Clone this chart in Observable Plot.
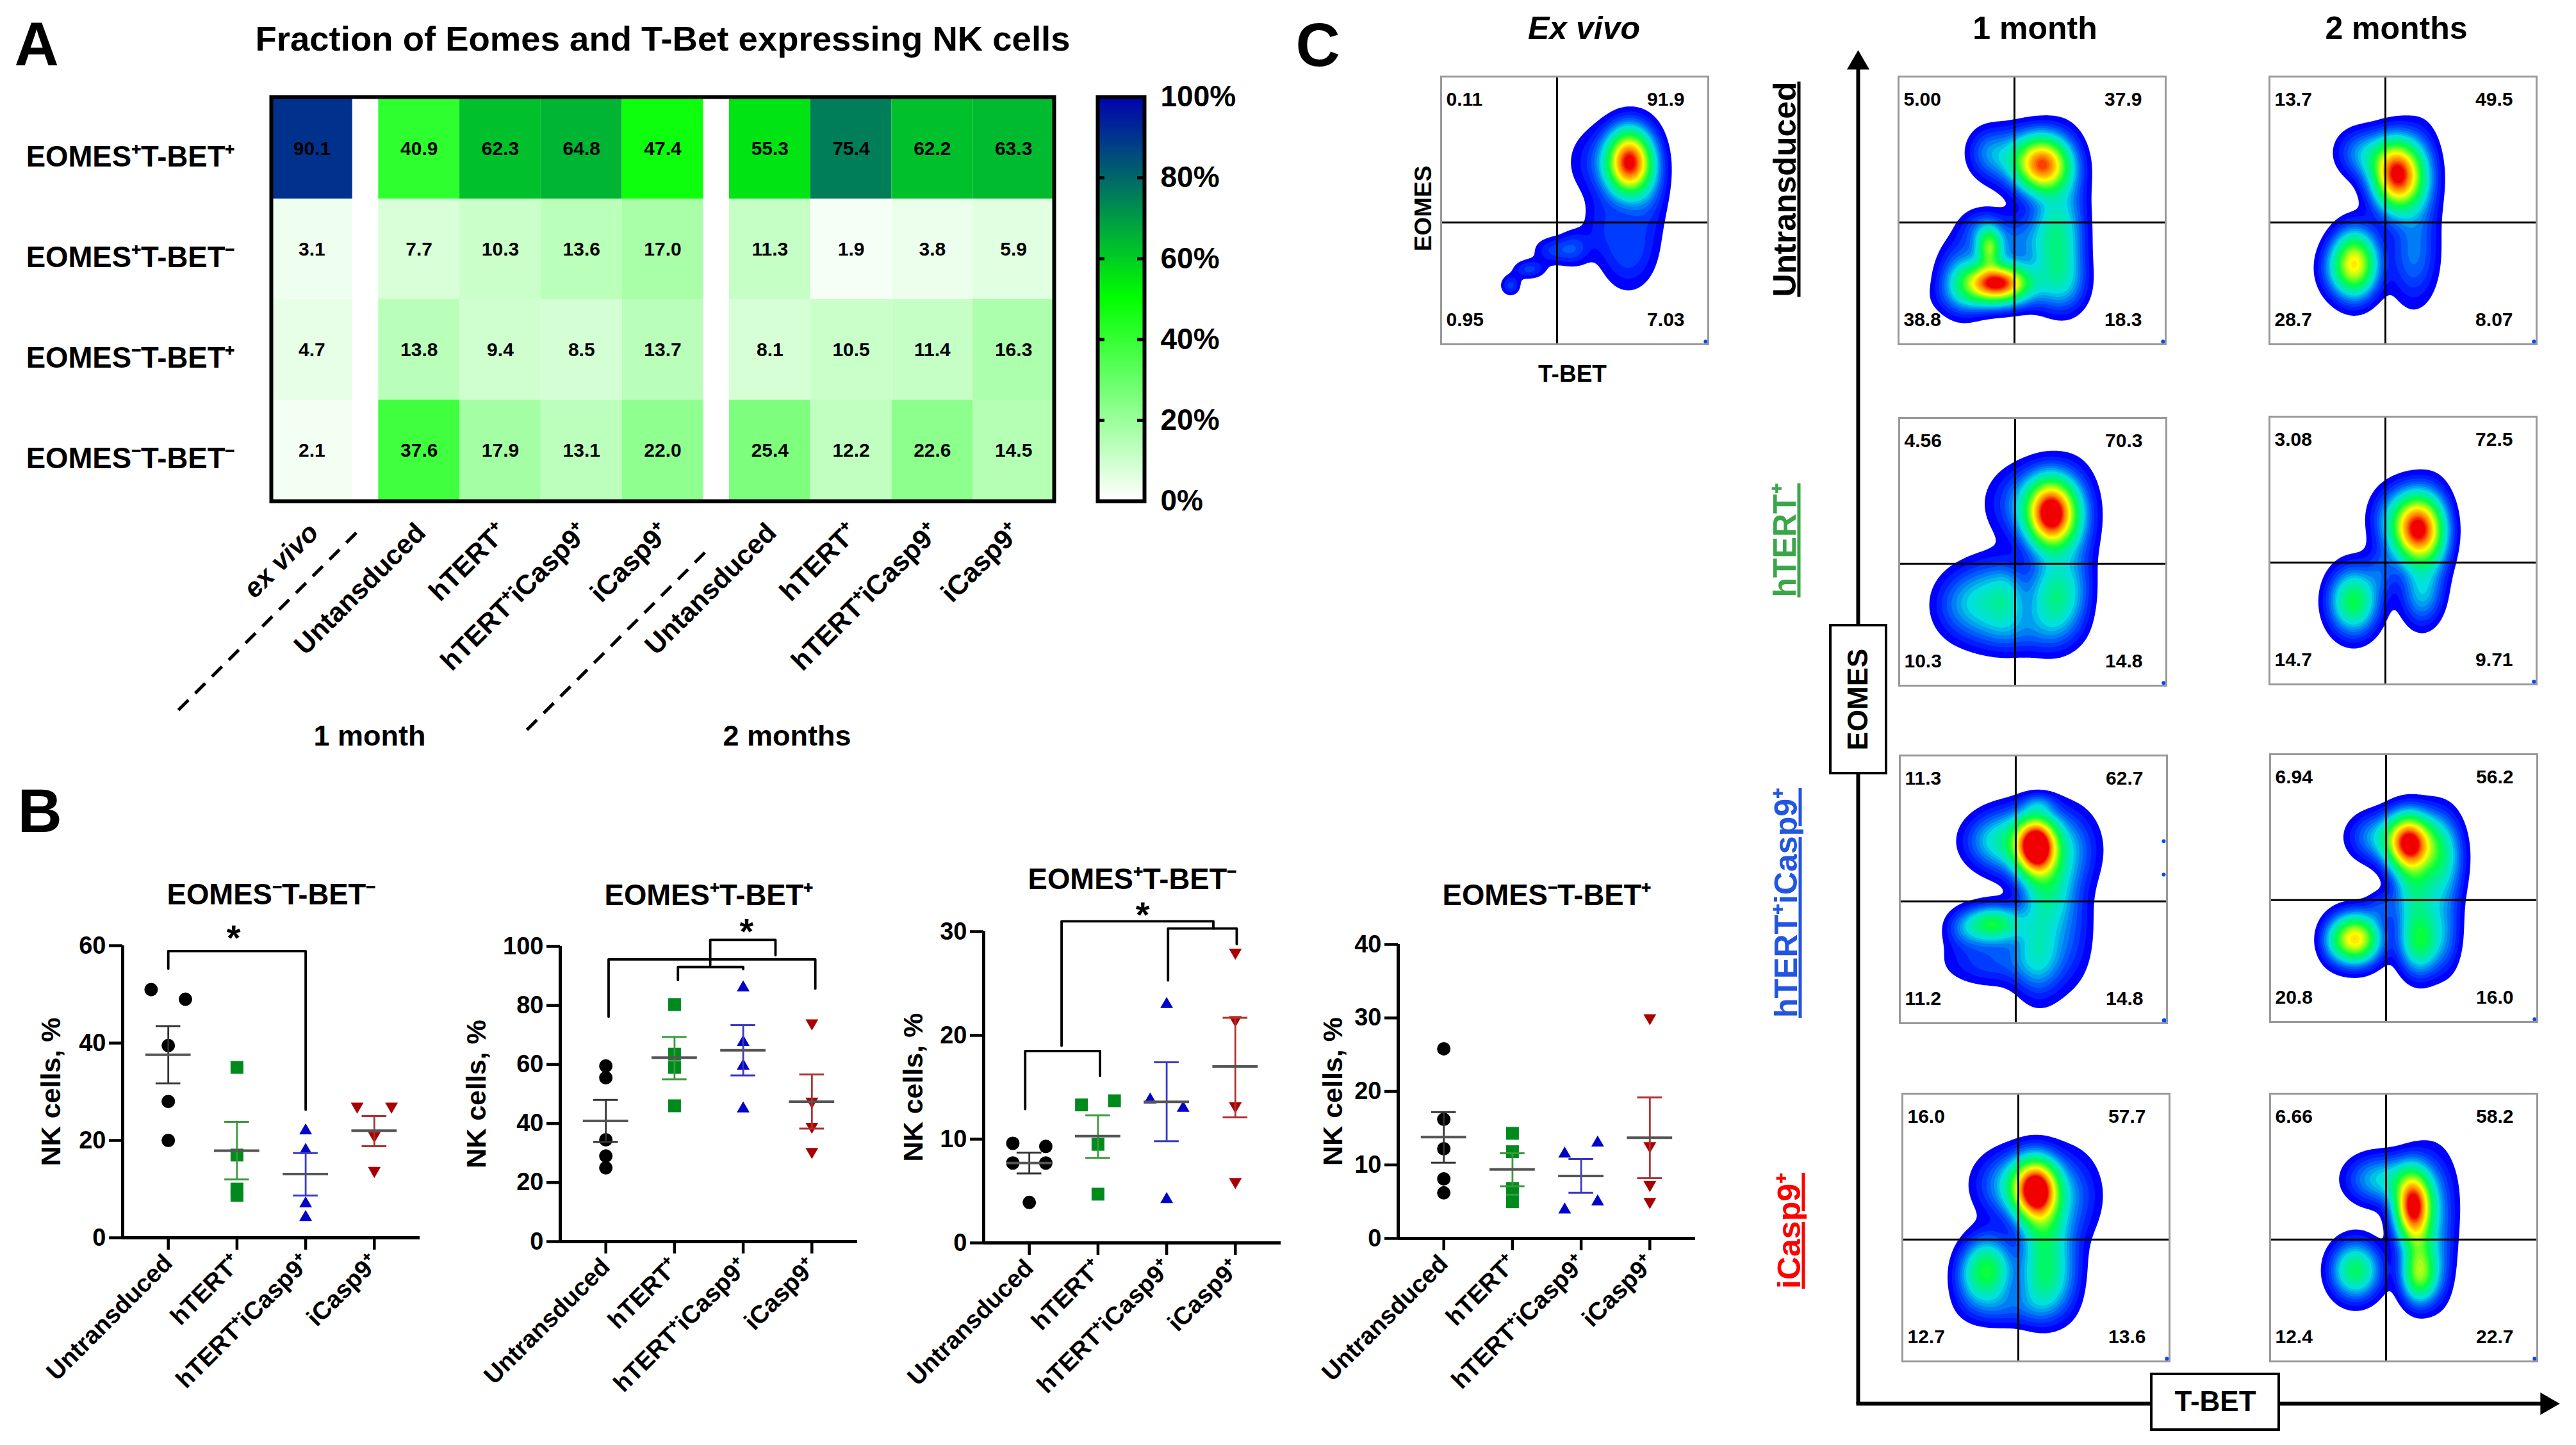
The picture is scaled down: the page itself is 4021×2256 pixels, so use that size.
<!DOCTYPE html>
<html><head><meta charset="utf-8">
<script src="https://cdn.jsdelivr.net/npm/d3@7"></script>
<script src="https://cdn.jsdelivr.net/npm/@observablehq/plot@0.6"></script>
<style>html,body{margin:0;padding:0;background:#fff}#page{position:relative;width:4021px;height:2256px;overflow:hidden;background:#fff}</style>
</head><body><div id="page"></div>
<script>
const FONT = "Liberation Sans, Arial, sans-serif";

// ---------- Panel A data ----------
const heatTitle = "Fraction of Eomes and T-Bet expressing NK cells";
const heatRows = ["EOMES⁺T-BET⁺","EOMES⁺T-BET⁻","EOMES⁻T-BET⁺","EOMES⁻T-BET⁻"];
const heatCols = ["ex vivo","Untansduced","hTERT⁺","hTERT⁺iCasp9⁺","iCasp9⁺","Untansduced","hTERT⁺","hTERT⁺iCasp9⁺","iCasp9⁺"];
const heatColGroup = [0,1,1,1,1,2,2,2,2];
const rowPP = [90.1,40.9,62.3,64.8,47.4,55.3,75.4,62.2,63.3];
const rowPN = [3.1,7.7,10.3,13.6,17.0,11.3,1.9,3.8,5.9];
const rowNP = [4.7,13.8,9.4,8.5,13.7,8.1,10.5,11.4,16.3];
const rowNN = [2.1,37.6,17.9,13.1,22.0,25.4,12.2,22.6,14.5];
const heatValues = [rowPP,rowPN,rowNP,rowNN];
const legendTicks = [0,20,40,60,80,100];
const heatDomain = [0,50,100];
const heatRange = ["#ffffff","#00ff00","#0000b0"];

// ---------- Panel B data ----------
const groups = ["Untransduced","hTERT⁺","hTERT⁺iCasp9⁺","iCasp9⁺"];
const groupFill = ["#000000","#008a1e","#0000c8","#a80000"];
const groupErr = ["#333333","#3a9a3a","#3a3ac4","#b03030"];
const b1Values = [[51,49,39.5,28,20],[35,17,10,8.7],[22,18,7,4.2],[27,27,21,13.8]];
const b1Offsets = [[-.25,.25,0,0,0],[0,0,0,0],[0,0,0,0],[-.25,.25,0,0]];
const b1Mean = [37.6,17.9,13.1,22.0], b1Low = [31.7,12,8.7,18.8], b1High = [43.5,23.8,17.4,25];
const b2Values = [[59.5,55.5,34.5,29,25],[80.3,63.5,59,46],[86,67.5,59.5,45],[74,47.5,39,30.5]];
const b2Offsets = [[0,0,0,0,0],[0,0,0,0],[0,0,0,0],[0,0,0,0]];
const b2Mean = [40.9,62.3,64.8,47.4], b2Low = [33.8,55,56.3,38.3], b2High = [48,69.3,73.3,56.6];
const b3Values = [[9.6,9.3,7.7,7.7,3.9],[13.7,13.3,9.5,4.7],[23,13.8,13,4.2],[28,21.5,13.2,5.9]];
const b3Offsets = [[-.24,.24,-.24,.24,0],[.24,-.24,0,0],[0,-.24,.24,0],[0,0,0,0]];
const b3Mean = [7.7,10.3,13.6,17.0], b3Low = [6.7,8.2,9.8,12.1], b3High = [8.7,12.3,17.4,21.7];
const b4Values = [[25.8,16.2,12.2,8.1,6.2],[14.3,11.8,6.8,5],[13,11.5,5,3.9],[30,12.6,7.3,5]];
const b4Offsets = [[0,0,0,0,0],[0,0,0,0],[.24,-.24,.24,-.24],[0,0,0,0]];
const b4Mean = [13.8,9.4,8.5,13.7], b4Low = [10.3,7.1,6.2,8.2], b4High = [17.2,11.6,10.8,19.2];
const b1Brackets = [[[0,55.3],[0,58.9],[2,58.9],[2,26.3]]];
const b2Brackets = [[[.04,76.2],[.04,95.6],[3.05,95.6],[3.05,85.7]],[[1.05,88.6],[1.05,93],[2,93],[2,92.3]],[[1.52,93.7],[1.52,102.2],[2.47,102.2],[2.47,97]]];
const b3Brackets = [[[-.06,12.9],[-.06,18.5],[1.03,18.5],[1.03,16.1]],[[.47,19],[.47,31],[2.68,31],[2.68,30.3]],[[2.02,25.3],[2.02,30.3],[3.02,30.3],[3.02,28.8]]];
const b4Brackets = [];
const b1Star = [[.95,62.7]], b2Star = [[2.05,106.9]], b3Star = [[1.65,32.1]], b4Star = [];
const b1Ticks = [0,20,40,60], b2Ticks = [0,20,40,60,80,100], b3Ticks = [0,10,20,30], b4Ticks = [0,10,20,30,40];

// ---------- Panel C data: quadrant percentages and density peaks [x, y, sdX, sdY, height] ----------
const qExVivo = ["0.11","91.9","0.95","7.03"];
const qUnt1 = ["5.00","37.9","38.8","18.3"], qUnt2 = ["13.7","49.5","28.7","8.07"];
const qHt1 = ["4.56","70.3","10.3","14.8"], qHt2 = ["3.08","72.5","14.7","9.71"];
const qHc1 = ["11.3","62.7","11.2","14.8"], qHc2 = ["6.94","56.2","20.8","16.0"];
const qIc1 = ["16.0","57.7","12.7","13.6"], qIc2 = ["6.66","58.2","12.4","22.7"];
const pExVivo = [[70.5,68,5.5,8,.95],[62,68,9,9,.12],[70,35,7,10,.12],[78,60,5,13,.1],[60,45,5,8,.06],[50,36,4,4.5,.1],[42,35,5,3.5,.1],[33,28,4,2.4,.11],[26,22,2.5,2.6,.11]];
const pUnt1 = [[54,67,6.5,7,.85],[43,70,8,7,.2],[33,72,5,6,.1],[62,60,6,13,.12],[37,23,8,4.5,1],[34,36,3,5,.45],[58,30,6,9,.22],[58,44,6,8,.2],[24,25,6,9,.2],[30,43,5,5,.1],[42,38,8,7,.15],[35,17,12,4,.12],[62,22,6,7,.12],[64,35,5,12,.08]];
const pUnt2 = [[48,63,6,8.5,1],[40,70,7,6,.15],[33,72,6,6,.1],[57,62,5,13,.12],[32,30,5.5,8,.72],[24,28,5,7,.08],[54,33,6,12,.16]];
const pHt1 = [[57,64,6,8.5,1],[50,68,10,9,.2],[66,62,6,13,.12],[35,32,9,9,.28],[22,30,7,8,.1],[58,33,6,10,.33],[66,35,5,10,.1],[45,20,12,6,.1],[40,33,4,8,.08]];
const pHt2 = [[55.5,58,6,8.5,1],[46,62,6,8,.15],[62,55,4.5,12,.12],[31.5,31,6,8,.45],[42,42,4,6,.1],[57,34,5,8,.22]];
const pHc1 = [[51,66,5,7,1],[44,68,10,8,.3],[62,65,8,10,.18],[34,68,7,6,.1],[55,50,6,10,.28],[35,37,7,4.5,.45],[24,35,5,5,.1],[52,27,6,11,.25],[35,23,12,6,.12],[64,35,6,14,.1],[52,82,4,2.5,.1]];
const pHc2 = [[52,67,5.5,7,1],[40,69,7,6,.2],[62,65,5,9,.2],[66,62,5,10,.15],[54,50,5,10,.3],[32,31,6,6,.75],[42,43,4,4,.1],[56,30,5,8,.42],[66,30,4,9,.08],[64,45,5,12,.12],[24,30,4,6,.08]];
const pIc1 = [[50,64,5.5,7.5,1],[42,66,9,8,.25],[62,62,8,11,.15],[53,48,5.5,10,.3],[32,34,6,8,.45],[53,30,6,9,.32],[25,30,5,8,.08],[40,20,10,5,.1],[62,35,5,12,.08]];
const pIc2 = [[53.5,58,4.5,8.5,1],[38,68,7,6,.18],[47,68,6,6,.15],[61,60,6,13,.15],[32,34,6,7,.42],[56,32,4.5,7,.5],[56,42,4,8,.2],[64,38,4,12,.08]];
const densityStops = [.04,.12,.25,.45,.7,.88,1];
const densityColors = ["#0000ff","#0050ff","#00e0e0","#00ff40","#ffff00","#ff8000","#f00000"];
const densityLevels = d3.range(.04,1.02,.03);
const gateX = 43.4, gateY = 45.5;
const rowLabels = ["Untransduced","hTERT⁺","hTERT⁺iCasp9⁺","iCasp9⁺"];
const rowLabelColors = ["#000000","#3aa648","#2255e0","#ff0000"];

// ---------- helpers ----------
const page = document.getElementById("page");
function place(svg,left,top){
  svg.style.position="absolute";svg.style.left=left+"px";svg.style.top=top+"px";
  svg.style.maxWidth="none";svg.style.background="transparent";svg.style.overflow="visible";
  svg.style.fontFamily=FONT;svg.style.fontWeight="bold";svg.style.color="#000";
  page.appendChild(svg);return svg;
}
const triangleDown = {draw(c,size){const y=Math.sqrt(size/(Math.sqrt(3)*3)),k=Math.sqrt(3)*y;c.moveTo(0,2*y);c.lineTo(k,-y);c.lineTo(-k,-y);c.closePath();}};
const groupSymbol = ["circle","square","triangle",triangleDown];
const groupR = [10.5,11.3,7.4,7.4];

// ---------- annotation layer ----------
const guides = [[278,1108,562,825],[822,1139,1110,852]];
const axisLines = [[2900,2191,2900,100],[2897,2191,3970,2191]];
const boxes = [[2857,976,2944,1207,"EOMES",-90],[3358,2145,3557,2232,"T-BET",0]];
const letters = [["A",22,103],["B",27,1300],["C",2022,104]];
const heads = [[2900,98,0],[3975,2191,90]];
const headings = [["1 month",3176,44],["2 months",3740,44]];
const exAxisText = [["EOMES",2222,325,-90],["T-BET",2454,584,0]];
const sideLabels = [[2786,295],[2786,843],[2788,1409],[2793,1921]];
place(Plot.plot({
  width:4021,height:2256,margin:0,
  x:{domain:[0,4021],range:[0,4021],axis:null},
  y:{domain:[0,2256],range:[0,2256],axis:null},
  marks:[
    Plot.link(guides,{x1:d=>d[0],y1:d=>d[1],x2:d=>d[2],y2:d=>d[3],stroke:"#000",strokeWidth:5,strokeDasharray:"22,15"}),
    Plot.link(axisLines,{x1:d=>d[0],y1:d=>d[1],x2:d=>d[2],y2:d=>d[3],stroke:"#000",strokeWidth:6}),
    Plot.dot(heads,{x:d=>d[0],y:d=>d[1],rotate:d=>d[2],symbol:"triangle",r:13,fill:"#000"}),
    Plot.rect(boxes,{x1:d=>d[0],y1:d=>d[1],x2:d=>d[2],y2:d=>d[3],fill:"#fff",stroke:"#000",strokeWidth:4}),
    Plot.text(boxes,{x:d=>(d[0]+d[2])/2,y:d=>(d[1]+d[3])/2,text:d=>d[4],rotate:d=>d[5],fontSize:44,fill:"#000"}),
    Plot.text(letters,{x:d=>d[1],y:d=>d[2],text:d=>d[0],fontSize:96,textAnchor:"start",lineAnchor:"bottom",dy:-2,fill:"#000"}),
    Plot.text(headings,{x:d=>d[1],y:d=>d[2],text:d=>d[0],fontSize:50,fill:"#000"}),
    Plot.text([["Ex vivo",2472,44]],{x:d=>d[1],y:d=>d[2],text:d=>d[0],fontStyle:"italic",fontSize:50,fill:"#000"}),
    Plot.text(exAxisText,{x:d=>d[1],y:d=>d[2],text:d=>d[0],rotate:d=>d[3],fontSize:37,fill:"#000"}),
    Plot.text(sideLabels,{x:d=>d[0],y:d=>d[1],text:(d,i)=>rowLabels[i],fill:(d,i)=>rowLabelColors[i],rotate:-90,fontSize:50,className:"side-label"})
  ]
}),0,0);
page.querySelectorAll(".side-label text").forEach(t=>t.style.textDecoration="underline");

// ---------- Panel A ----------
const colX = heatCols.map((c,i)=>i+.32*heatColGroup[i]);
const heatTable = heatValues.flatMap((row,r)=>row.map((v,c)=>({row:heatRows[r],x1:colX[c],x2:colX[c]+1,v})));
const colLabelData = heatCols.map((c,i)=>({c,x:colX[i]+.5}));
const monthLabels = [["1 month",1.21],["2 months",6.35]];
const sharedColor = {type:"linear",domain:heatDomain,range:heatRange,interpolate:"rgb"};
place(Plot.plot({
  width:1700,height:1220,marginLeft:423,marginTop:151,marginBottom:438,marginRight:55,
  x:{type:"linear",domain:[0,9.64],axis:null},
  y:{domain:heatRows,padding:0,axis:null},
  color:sharedColor,
  marks:[
    Plot.barX(heatTable,{x1:"x1",x2:"x2",y:"row",fill:"v"}),
    Plot.text(heatTable,{x:d=>(d.x1+d.x2)/2,y:"row",text:d=>d.v.toFixed(1),fontSize:30,fill:"#000"}),
    Plot.frame({stroke:"#000",strokeWidth:6}),
    Plot.axisY({anchor:"left",tickSize:0,tickPadding:57,dy:13,fontSize:45.5,label:null,fill:"#000"}),
    Plot.text(colLabelData.filter(d=>d.c!=="ex vivo"),{x:"x",text:"c",frameAnchor:"bottom",lineAnchor:"middle",rotate:-45,textAnchor:"end",dx:3,dy:42,fontSize:42.5,fill:"#000"}),
    Plot.text(colLabelData.filter(d=>d.c==="ex vivo"),{x:"x",text:"c",frameAnchor:"bottom",lineAnchor:"middle",rotate:-45,textAnchor:"end",dx:3,dy:42,fontSize:42.5,fontStyle:"italic",fill:"#000"}),
    Plot.text(monthLabels,{x:d=>d[1],text:d=>d[0],frameAnchor:"bottom",lineAnchor:"middle",dy:367,fontSize:45,fill:"#000"}),
    Plot.text([heatTitle],{frameAnchor:"top",lineAnchor:"middle",dy:-90,fontSize:54.5,fill:"#000"})
  ]
}),0,0);

// legend
const legendSteps = d3.range(0,100,.5);
place(Plot.plot({
  width:200,height:900,marginLeft:13,marginRight:114,marginTop:151,marginBottom:118,
  x:{domain:[0,1],axis:null},
  y:{domain:[0,100]},
  color:sharedColor,
  marks:[
    Plot.rect(legendSteps,{x1:0,x2:1,y1:d=>d,y2:d=>Math.min(100,d+1),fill:d=>d}),
    Plot.ruleY(legendTicks.slice(1,-1),{x1:0,x2:.15,strokeWidth:5}),
    Plot.ruleY(legendTicks.slice(1,-1),{x1:.85,x2:1,strokeWidth:5}),
    Plot.frame({stroke:"#000",strokeWidth:6}),
    Plot.axisY(legendTicks,{anchor:"right",tickSize:0,tickPadding:25,fontSize:46,label:null,fill:"#000",tickFormat:d=>d+"%"})
  ]
}),1700,0);

// ---------- Panel B ----------
function scatterChart(cfg){
  const pts = cfg.values.flatMap((vs,g)=>vs.map((v,i)=>({g,v,x:g+cfg.offsets[g][i]})));
  const summary = groups.map((n,g)=>({g,mean:cfg.mean[g],low:cfg.low[g],high:cfg.high[g]}));
  const brackets = cfg.brackets.flatMap((b,id)=>b.map(p=>({id,x:p[0],y:p[1]})));
  return place(Plot.plot({
    width:150+464+20,height:140+cfg.plotH+260,marginLeft:150,marginRight:20,marginTop:140,marginBottom:260,
    x:{domain:[-.664,3.664],axis:null},
    y:{domain:[0,cfg.ticks[cfg.ticks.length-1]],axis:null},
    marks:[
      Plot.ruleX([-.664],{strokeWidth:5}),
      Plot.ruleY([0],{strokeWidth:5}),
      Plot.axisY(cfg.ticks,{tickSize:21,tickPadding:5,fontSize:38,strokeWidth:4.5,label:null,fill:"#000"}),
      Plot.axisX([0,1,2,3],{tickSize:19,tickPadding:14,tickRotate:-45,fontSize:38.5,strokeWidth:4.5,label:null,fill:"#000",tickFormat:i=>groups[i]}),
      ...groups.map((n,g)=>Plot.dot(pts.filter(d=>d.g===g),{x:"x",y:"v",symbol:groupSymbol[g],r:groupR[g],fill:groupFill[g]})),
      Plot.link(summary,{x1:"g",x2:"g",y1:"low",y2:"high",stroke:d=>groupErr[d.g],strokeWidth:2.8}),
      Plot.ruleY(summary,{y:"low",x1:d=>d.g-.18,x2:d=>d.g+.18,stroke:d=>groupErr[d.g],strokeWidth:3}),
      Plot.ruleY(summary,{y:"high",x1:d=>d.g-.18,x2:d=>d.g+.18,stroke:d=>groupErr[d.g],strokeWidth:3}),
      Plot.ruleY(summary,{y:"mean",x1:d=>d.g-.33,x2:d=>d.g+.33,stroke:"#555",strokeWidth:4}),
      Plot.line(brackets,{x:"x",y:"y",z:"id",stroke:"#000",strokeWidth:3.8,curve:"linear"}),
      Plot.text(cfg.star,{x:d=>d[0],y:d=>d[1],text:()=>"*",fontSize:56,dy:9,fill:"#000"}),
      Plot.text([cfg.title],{frameAnchor:"top",lineAnchor:"middle",dy:-cfg.titleDy,fontSize:45.5,fill:"#000"}),
      Plot.text(["NK cells, %"],{frameAnchor:"left",textAnchor:"middle",lineAnchor:"middle",rotate:-90,dx:-cfg.labelDx,fontSize:43,fill:"#000"})
    ]
  }),cfg.left-150,cfg.top-140);
}
scatterChart({title:"EOMES⁻T-BET⁻",values:b1Values,offsets:b1Offsets,mean:b1Mean,low:b1Low,high:b1High,brackets:b1Brackets,star:b1Star,ticks:b1Ticks,left:191,top:1476,plotH:456,titleDy:79,labelDx:111});
scatterChart({title:"EOMES⁺T-BET⁺",values:b2Values,offsets:b2Offsets,mean:b2Mean,low:b2Low,high:b2High,brackets:b2Brackets,star:b2Star,ticks:b2Ticks,left:874,top:1477,plotH:461,titleDy:79,labelDx:130});
scatterChart({title:"EOMES⁺T-BET⁻",values:b3Values,offsets:b3Offsets,mean:b3Mean,low:b3Low,high:b3High,brackets:b3Brackets,star:b3Star,ticks:b3Ticks,left:1535,top:1454,plotH:486,titleDy:81,labelDx:109});
scatterChart({title:"EOMES⁻T-BET⁺",values:b4Values,offsets:b4Offsets,mean:b4Mean,low:b4Low,high:b4High,brackets:b4Brackets,star:b4Star,ticks:b4Ticks,left:2182,top:1474,plotH:459,titleDy:76,labelDx:101});

// ---------- Panel C ----------
function densityPanel(peaks,quad,left,top,extras=[]){
  const field=(x,y)=>{let f=0;for(const [px,py,sx,sy,h] of peaks){const a=(x-px)/sx,b=(y-py)/sy;f+=h*Math.exp(-.5*(a*a+b*b));}return f;};
  return place(Plot.plot({
    width:417,height:418,margin:0,
    x:{domain:[0,100],axis:null},y:{domain:[0,100],axis:null},
    color:{type:"linear",domain:densityStops,range:densityColors,interpolate:"rgb",clamp:true},
    marks:[
      Plot.contour({value:field,fill:"value",x1:0,y1:0,x2:100,y2:100,thresholds:densityLevels,stroke:"none"}),
      Plot.dot(extras,{x:d=>d[0],y:d=>d[1],r:d=>d[2],fill:"#0048ff"}),
      Plot.ruleX([gateX],{stroke:"#000",strokeWidth:3}),
      Plot.ruleY([gateY],{stroke:"#000",strokeWidth:3}),
      Plot.frame({stroke:"#999",strokeWidth:3}),
      Plot.text([quad[0]],{frameAnchor:"top-left",dx:8,dy:24,textAnchor:"start",fontSize:30,fill:"#000"}),
      Plot.text([quad[1]],{frameAnchor:"top-right",dx:-37,dy:24,textAnchor:"end",fontSize:30,fill:"#000"}),
      Plot.text([quad[2]],{frameAnchor:"bottom-left",dx:8,dy:-29,textAnchor:"start",fontSize:30,fill:"#000"}),
      Plot.text([quad[3]],{frameAnchor:"bottom-right",dx:-37,dy:-29,textAnchor:"end",fontSize:30,fill:"#000"})
    ]
  }),left,top);
}
const corner=[[99,1,5]];
densityPanel(pExVivo,qExVivo,2249,119,corner);
densityPanel(pUnt1,qUnt1,2963,119,corner);
densityPanel(pUnt2,qUnt2,3542,119,corner);
densityPanel(pHt1,qHt1,2964,652,corner);
densityPanel(pHt2,qHt2,3542,650,corner);
densityPanel(pHc1,qHc1,2965,1179,[[99,1,6],[98.8,68,4],[98.8,55.5,4]]);
densityPanel(pHc2,qHc2,3543,1177,corner);
densityPanel(pIc1,qIc1,2969,1707,corner);
densityPanel(pIc2,qIc2,3543,1707,corner);
</script></body></html>
